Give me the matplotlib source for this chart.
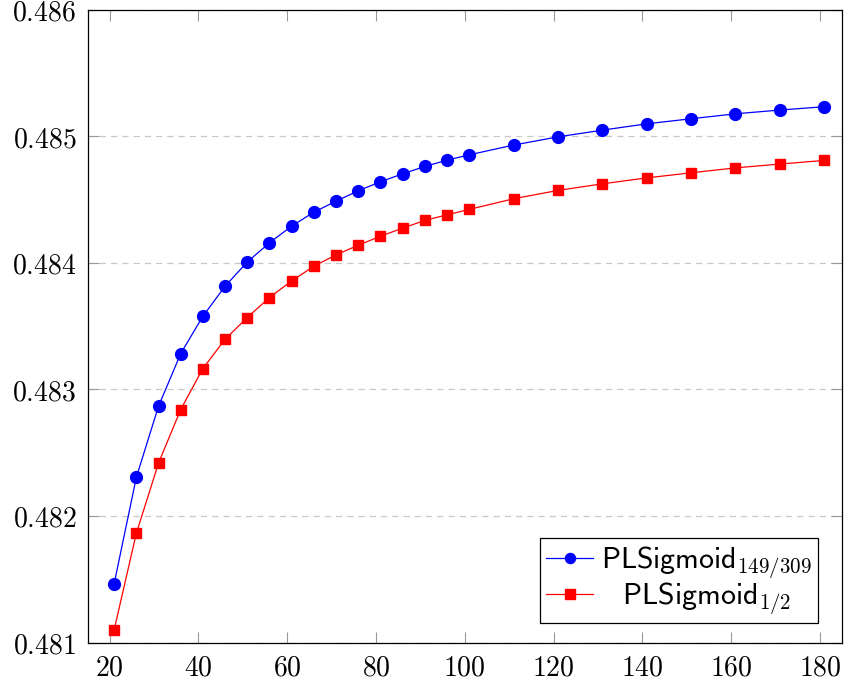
import matplotlib
matplotlib.use("Agg")
import matplotlib.pyplot as plt
from matplotlib.ticker import FuncFormatter

plt.rcParams['mathtext.fontset'] = 'cm'

# data
x_vals = [21, 26, 31, 36, 41, 46, 51, 56, 61, 66, 71, 76, 81, 86, 91, 96, 101,
          111, 121, 131, 141, 151, 161, 171, 181]
blue_vals = [0.481464, 0.482304, 0.482866, 0.483282, 0.483577, 0.483814, 0.484006,
             0.484157, 0.484289, 0.484399, 0.484486, 0.484568, 0.484639, 0.484702,
             0.484760, 0.484810, 0.484852, 0.484929, 0.484994, 0.485047, 0.485097,
             0.485137, 0.485176, 0.485206, 0.485232]
red_vals = [0.481100, 0.481862, 0.482417, 0.482840, 0.483164, 0.483395, 0.483567,
            0.483725, 0.483856, 0.483972, 0.484062, 0.484138, 0.484209, 0.484273,
            0.484334, 0.484378, 0.484421, 0.484505, 0.484571, 0.484623, 0.484670,
            0.484710, 0.484749, 0.484779, 0.484808]
blue_label = r'$\mathsf{PLSigmoid}_{149/309}$'
red_label = r'$\hspace{0.83}\mathsf{PLSigmoid}_{1/2}$'
x_ticks = [20, 40, 60, 80, 100, 120, 140, 160, 180]
y_ticks = [0.481, 0.482, 0.483, 0.484, 0.485, 0.486]

fig = plt.figure(figsize=(8.44, 6.81), dpi=100)
ax = fig.add_axes([87.5 / 844, 1 - 642.5 / 681, (842 - 87.5) / 844, (642.5 - 9.5) / 681])

ax.plot(x_vals, blue_vals, color='#0000ff', lw=0.9, marker='o', markersize=8.5,
        label=blue_label, zorder=3)
ax.plot(x_vals, red_vals, color='#ff0000', lw=0.9, marker='s', markersize=7.8,
        label=red_label, zorder=3)

ax.set_xlim(15, 185)
ax.set_ylim(0.481, 0.486)
ax.set_xticks(x_ticks)
ax.set_yticks(y_ticks)
ax.xaxis.set_major_formatter(FuncFormatter(lambda v, p: r'$%d$' % v))
ax.yaxis.set_major_formatter(FuncFormatter(lambda v, p: r'$%.3f$' % v))

# pgfplots-like ticks: inside, on all four sides, grey
ax.tick_params(direction='in', length=8, width=0.8, color='#999999',
               top=True, right=True, labelsize=20, pad=8)
for s in ax.spines.values():
    s.set_linewidth(0.9)
    s.set_color('black')

ax.yaxis.grid(True, color='#c8c8c8', linestyle=(0, (5, 4)), linewidth=0.9)
ax.set_axisbelow(True)

leg = ax.legend(loc='lower right', bbox_to_anchor=((818.3 - 87.5) / 754.5, 19.2 / 633),
                borderaxespad=0, fontsize=21.5, fancybox=False, framealpha=1,
                edgecolor='black', handlelength=1.55, handletextpad=0.28,
                borderpad=0.22, labelspacing=0.0, markerscale=0.85)
leg.get_frame().set_linewidth(0.9)

fig.savefig('out.png', dpi=100)
